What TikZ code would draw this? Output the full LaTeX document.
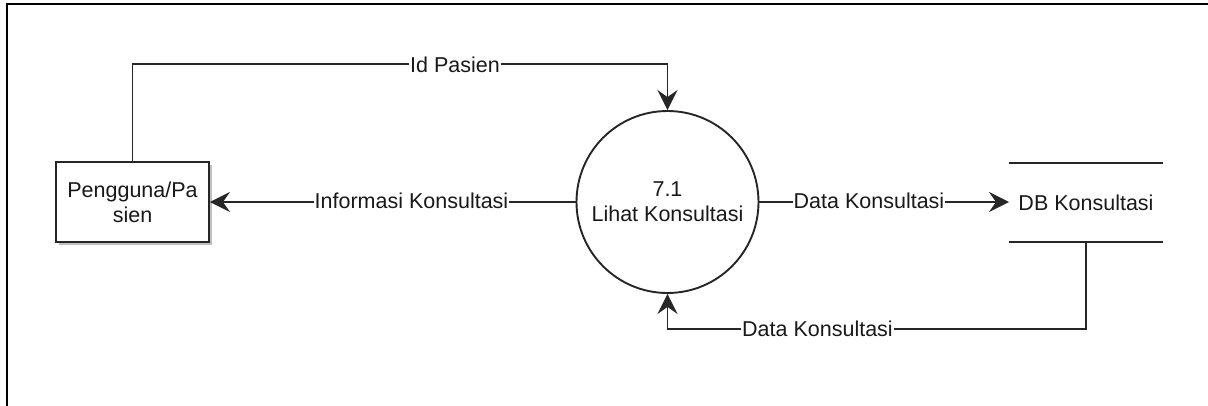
\documentclass[tikz,border=0pt]{standalone}
\usepackage{fontspec}
\setmainfont{Liberation Sans}
\usetikzlibrary{arrows.meta,calc}
\begin{document}
\begin{tikzpicture}[x=1pt,y=-1pt,
  every node/.style={font=\fontsize{21.5}{25}\selectfont, text=black!90},
  conn/.style={draw=black!85, line width=1.9pt},
  arr/.style={conn, -{Stealth[length=20pt,width=20pt,inset=7pt]}},
  lbl/.style={fill=white, inner sep=1pt},
  entity/.style={draw=black!85, line width=1.9pt, fill=white, minimum width=153pt, minimum height=80pt, align=center, inner sep=0pt},
  proc/.style={draw=black!85, line width=1.9pt, fill=white, circle, minimum size=182pt, align=center, inner sep=0pt}
]
\useasboundingbox (0,0) rectangle (1208,405);
% frame
\draw[line width=2.6pt, black] (7,415) -- (7,4) -- (1215,4);

% shadows
\fill[black!25] (59,165) rectangle (212,245);
\node[entity] (user) at (132.5,202) {Pengguna/Pa\\sien};
\node[proc] (proc) at (667.5,202) {7.1\\Lihat Konsultasi};

% data store
\coordinate (dbTL) at (1009,163);
\coordinate (dbTR) at (1163,163);
\coordinate (dbBL) at (1009,242);
\coordinate (dbBR) at (1163,242);
\draw[conn] (dbTL) -- (dbTR);
\draw[conn] (dbBL) -- (dbBR);
\node (db) at (1086,202.5) {DB Konsultasi};
\coordinate (dbW) at (1009,202);
\coordinate (dbS) at (1086,242);

% corners
\coordinate (c1) at (133,64);
\coordinate (c2) at (667.5,64);
\coordinate (c3) at (1086,329);
\coordinate (c4) at (667.5,329);

% connectors
\draw[arr] (user.north) |- (c1) -- (c2) -- (proc.north);
\node[lbl] (l1) at (455,65) {Id Pasien};

\draw[arr] (proc.west) -- (user.east);
\node[lbl] (l2) at (411.5,201) {Informasi Konsultasi};

\draw[arr] (proc.east) -- (dbW);
\node[lbl] (l3) at (869,201) {Data Konsultasi};

\draw[arr] (dbS) -- (c3) -- (c4) -- (proc.south);
\node[lbl] (l4) at (817.5,329) {Data Konsultasi};
\end{tikzpicture}
\end{document}
